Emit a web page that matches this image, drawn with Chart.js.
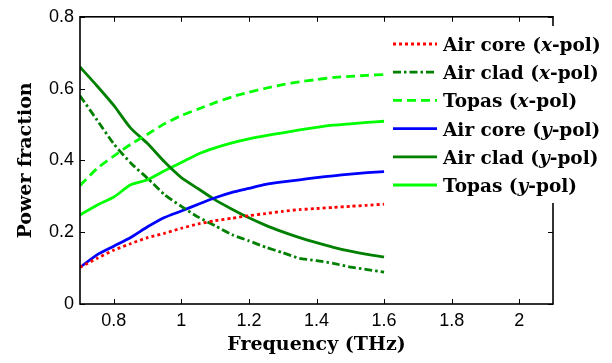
<!DOCTYPE html>
<html>
<head>
<meta charset="utf-8">
<script src="https://cdn.jsdelivr.net/npm/chart.js@4/dist/chart.umd.min.js"></script>
<style>
html,body{margin:0;padding:0;background:#fff;}
#wrap{width:612px;height:363px;position:relative;}
</style>
</head>
<body>
<div id="wrap"><canvas id="c" width="612" height="363"></canvas></div>
<script>
// ---- data ----
const freq = [0.70,0.75,0.80,0.85,0.90,0.95,1.00,1.05,1.10,1.15,1.20,1.25,1.30,1.35,1.40,1.45,1.50,1.55,1.60];
const airCoreX = [0.102,0.127,0.150,0.168,0.185,0.197,0.211,0.223,0.232,0.239,0.246,0.252,0.258,0.263,0.266,0.269,0.272,0.275,0.278];
const airCladX = [0.580,0.513,0.446,0.393,0.350,0.305,0.272,0.242,0.218,0.193,0.176,0.158,0.143,0.127,0.121,0.113,0.103,0.096,0.089];
const topasX   = [0.330,0.377,0.412,0.445,0.473,0.502,0.525,0.543,0.561,0.577,0.590,0.601,0.611,0.619,0.625,0.631,0.634,0.637,0.639];
const airCoreY = [0.102,0.137,0.161,0.185,0.215,0.241,0.259,0.278,0.296,0.311,0.322,0.333,0.340,0.346,0.352,0.357,0.362,0.366,0.369];
const airCladY = [0.660,0.608,0.553,0.490,0.447,0.396,0.352,0.321,0.290,0.264,0.240,0.219,0.201,0.185,0.171,0.158,0.147,0.138,0.131];
const topasY   = [0.248,0.275,0.298,0.332,0.346,0.371,0.394,0.418,0.435,0.449,0.460,0.469,0.477,0.485,0.492,0.498,0.502,0.506,0.509];
const seriesLabels = ['Air core (x-pol)','Air clad (x-pol)','Topas (x-pol)','Air core (y-pol)','Air clad (y-pol)','Topas (y-pol)'];
const xTickValues = [0.8,1.0,1.2,1.4,1.6,1.8,2.0];
const yTickValues = [0,0.2,0.4,0.6,0.8];
const xTitle = 'Frequency (THz)';
const yTitle = 'Power fraction';

// ---- styling ----
const serif = '"DejaVu Serif", serif';
const sans = '"Liberation Sans", Arial, sans-serif';
const styles = [
  {color:'#ff0000', dash:[3,3]},
  {color:'#008000', dash:[8,3,2.5,3]},
  {color:'#00ff00', dash:[9,5]},
  {color:'#0000ff', dash:[]},
  {color:'#008000', dash:[]},
  {color:'#00ff00', dash:[]}
];
const seriesValues = [airCoreX, airCladX, topasX, airCoreY, airCladY, topasY];

const datasets = seriesValues.map((vals,i)=>({
  label: seriesLabels[i],
  data: freq.map((f,j)=>({x:f, y:vals[j]})),
  borderColor: styles[i].color,
  backgroundColor: styles[i].color,
  borderDash: styles[i].dash,
  borderWidth: 2.8,
  pointRadius: 0,
  tension: 0.2,
  fill: false
}));

const fmt = v => String(Math.round(v*10)/10);

const frame = {
  id:'frame',
  afterDatasetsDraw(chart){
    const {ctx, chartArea:a, scales:{x,y}} = chart;
    ctx.save();
    ctx.strokeStyle='#000';
    ctx.setLineDash([]);
    ctx.lineWidth=1;
    ctx.beginPath();
    x.ticks.forEach(t=>{
      const px=Math.round(x.getPixelForValue(t.value))+0.5;
      ctx.moveTo(px,a.bottom); ctx.lineTo(px,a.bottom-5);
      ctx.moveTo(px,a.top); ctx.lineTo(px,a.top+5);
    });
    y.ticks.forEach(t=>{
      const py=Math.round(y.getPixelForValue(t.value))+0.5;
      ctx.moveTo(a.left,py); ctx.lineTo(a.left+5,py);
      ctx.moveTo(a.right,py); ctx.lineTo(a.right-5,py);
    });
    ctx.stroke();
    ctx.lineWidth=1.6;
    ctx.strokeRect(a.left, a.top, a.right-a.left, a.bottom-a.top);
    ctx.restore();
  }
};

const legendBox = {
  id:'legendBox',
  afterDraw(chart){
    const ctx = chart.ctx;
    ctx.save();
    ctx.fillStyle='#fff';
    ctx.fillRect(388, 26, 224, 177);
    const fs = 18.5;
    chart.data.datasets.forEach((ds,i)=>{
      const yc = 44 + i*28.2;
      ctx.strokeStyle = ds.borderColor;
      ctx.lineWidth = ds.borderWidth;
      ctx.setLineDash(ds.borderDash||[]);
      ctx.beginPath(); ctx.moveTo(393,yc); ctx.lineTo(437,yc); ctx.stroke();
      ctx.setLineDash([]);
      const m = ds.label.match(/^(.*\()([xy])(-pol\))$/);
      const parts = m ? [[m[1],''],[m[2],'italic '],[m[3],'']] : [[ds.label,'']];
      let tx = 443;
      ctx.fillStyle='#000';
      ctx.textBaseline='alphabetic';
      parts.forEach(([s,st])=>{
        ctx.font = st + 'bold ' + fs + 'px ' + serif;
        ctx.fillText(s, tx, yc+7);
        tx += ctx.measureText(s).width;
      });
    });
    ctx.restore();
  }
};

new Chart(document.getElementById('c'), {
  type:'line',
  data:{datasets},
  options:{
    responsive:false,
    animation:false,
    devicePixelRatio:1,
    layout:{padding:{left:0, top:12, right:59, bottom:0}},
    plugins:{legend:{display:false}, tooltip:{enabled:false}},
    scales:{
      x:{
        type:'linear', min:0.7, max:2.1,
        afterBuildTicks: s => { s.ticks = xTickValues.map(v=>({value:v})); },
        afterFit: s => { s.height = 59; },
        grid:{display:false, drawTicks:false},
        border:{display:false},
        ticks:{callback:v=>fmt(v), font:{family:sans, size:18}, color:'#000', padding:6, maxRotation:0, autoSkip:false},
        title:{display:true, text:xTitle, color:'#000', font:{family:serif, weight:'bold', size:19}, padding:{top:0, bottom:7}}
      },
      y:{
        type:'linear', min:0, max:0.8,
        afterBuildTicks: s => { s.ticks = yTickValues.map(v=>({value:v})); },
        afterFit: s => { s.width = 80; },
        grid:{display:false, drawTicks:false},
        border:{display:false},
        ticks:{callback:v=>fmt(v), font:{family:sans, size:18}, color:'#000', padding:6},
        title:{display:true, text:yTitle, color:'#000', font:{family:serif, weight:'bold', size:19}, padding:{top:15, bottom:0}}
      }
    }
  },
  plugins:[frame, legendBox]
});
</script>
</body>
</html>
